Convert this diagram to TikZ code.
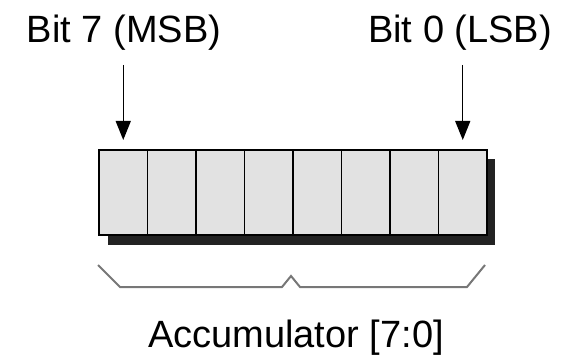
\documentclass[tikz,border=0pt]{standalone}
\usepackage{fontspec}
\setmainfont{Liberation Sans}
\usetikzlibrary{arrows.meta}
\definecolor{cellgray}{HTML}{E2E2E2}
\definecolor{shadowc}{HTML}{222222}
\definecolor{bracec}{HTML}{777777}
\begin{document}
\begin{tikzpicture}[x=1pt,y=-1pt,
  cellbox/.style={draw=black,line width=1.6pt,fill=cellgray,minimum width=48.5pt,minimum height=85pt,inner sep=0pt,outer sep=0pt},
  lbl/.style={font=\fontsize{38}{40}\selectfont,inner sep=0pt,anchor=base},
  bitarrow/.style={line width=1.4pt,-{Triangle[length=19pt,width=15pt]}},
  bracestyle/.style={draw=bracec,line width=2pt,line join=miter}]
\useasboundingbox (0,0) rectangle (567,358);
% shadow
\fill[shadowc] (108,159) rectangle (495,245);
% cells
\foreach \i in {0,...,7}{
  \node[cellbox] (c\i) at ({99+24.25+48.5*(7-\i)},192.5) {};
}
% labels
\node[lbl] (msb) at (124,43) {Bit 7 (MSB)};
\node[lbl] (lsb) at (460,43) {Bit 0 (LSB)};
\node[lbl] (acc) at (296,347) {Accumulator [7:0]};
% arrows
\coordinate (a7) at (c7.north |- 0,65);
\coordinate (a0) at (c0.north |- 0,65);
\draw[bitarrow] (a7) -- ([yshift=10pt]c7.north);
\draw[bitarrow] (a0) -- ([yshift=10pt]c0.north);
% brace
\draw[bracestyle] (98,265) -- (120,287) -- (282,287) -- (291,276) -- (300,287) -- (467,287) -- (485,265);
\end{tikzpicture}
\end{document}
